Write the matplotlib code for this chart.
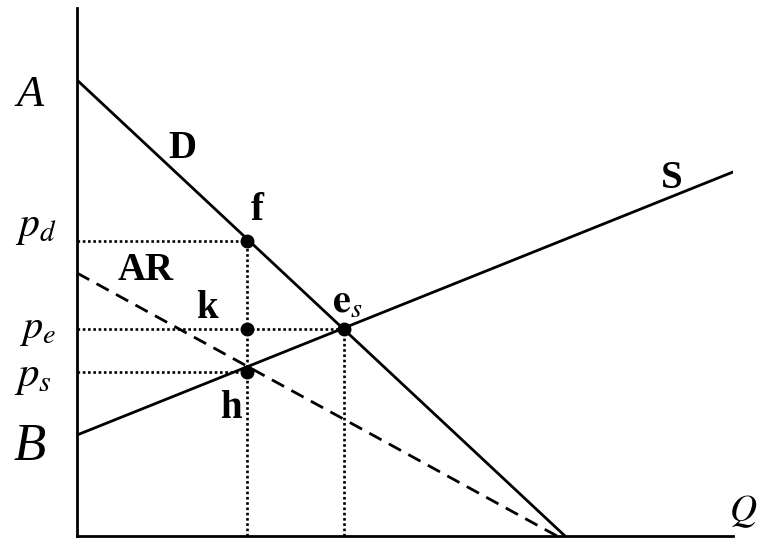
import matplotlib
matplotlib.use("Agg")
import matplotlib.pyplot as plt

plt.rcParams['font.family'] = ['Liberation Serif', 'DejaVu Serif']
plt.rcParams['mathtext.fontset'] = 'stix'

# intercepts of the curves (price axis / quantity axis)
a_price = 4.56      # A: demand intercept
d_qty = 4.88        # demand hits Q axis
b_price = 1.01      # B: supply intercept
s_end = [6.56, 3.64]  # end of the supply line
ar_price = 2.63     # AR intercept
ar_qty = 4.80       # AR hits Q axis

# marked points
q_f = 1.70
q_e = 2.67
p_d = 2.95
p_e = 2.07
p_s = 1.64

fig = plt.figure(figsize=(7.6, 5.38), dpi=100)
ax = fig.add_axes([77 / 760, 2 / 538, 656 / 760, 528 / 538])
ax.set_xlim(0, 6.56)
ax.set_ylim(0, 5.28)

# axes look
for side in ['top', 'right']:
    ax.spines[side].set_visible(False)
for side in ['left', 'bottom']:
    ax.spines[side].set_linewidth(2.0)
ax.set_xticks([])
ax.set_yticks([])

# curves
ax.plot([0, d_qty], [a_price, 0], color='black', lw=2.0, solid_capstyle='butt')
ax.plot([0, s_end[0]], [b_price, s_end[1]], color='black', lw=2.0)
ax.plot([0, ar_qty], [ar_price, 0], color='black', lw=2.0,
        linestyle=(0, (5, 3)))

# dotted guides
dot = dict(color='black', lw=1.9, linestyle=(0, (1, 1)))
ax.plot([0, q_f], [p_d, p_d], **dot)
ax.plot([0, q_e], [p_e, p_e], **dot)
ax.plot([0, q_f], [p_s, p_s], **dot)
ax.plot([q_f, q_f], [0, p_d], **dot)
ax.plot([q_e, q_e], [0, p_e], **dot)

# points f, k, h, e_s
ax.plot([q_f, q_f, q_f, q_e], [p_d, p_e, p_s, p_e], 'o', color='black',
        markersize=9)

# axis labels
ax.text(-0.47, 4.41, 'A', fontsize=32, style='italic', ha='center', va='center', clip_on=False)
ax.text(-0.47, 0.89, 'B', fontsize=38, style='italic', ha='center', va='center', clip_on=False)
ax.text(-0.41, 3.08, '$p_d$', fontsize=30, ha='center', va='center', clip_on=False)
ax.text(-0.40, 2.06, '$p_e$', fontsize=29, ha='center', va='center', clip_on=False)
ax.text(-0.44, 1.58, '$p_s$', fontsize=31, ha='center', va='center', clip_on=False)
ax.text(6.66, 0.24, '$Q$', fontsize=27, ha='center', va='center', clip_on=False)

# curve and point labels
bold = dict(fontsize=28, fontweight='bold', ha='center', va='center')
ax.text(1.05, 3.88, 'D', **bold)
ax.text(0.69, 2.66, 'AR', **bold)
ax.text(5.95, 3.58, 'S', **bold)
ax.text(1.80, 3.26, 'f', **bold)
ax.text(1.31, 2.27, 'k', **bold)
ax.text(1.54, 1.28, 'h', **bold)
ax.text(2.70, 2.33, r'$\mathbf{e}_s$', fontsize=29, ha='center', va='center')

fig.savefig('out.png', dpi=100)
